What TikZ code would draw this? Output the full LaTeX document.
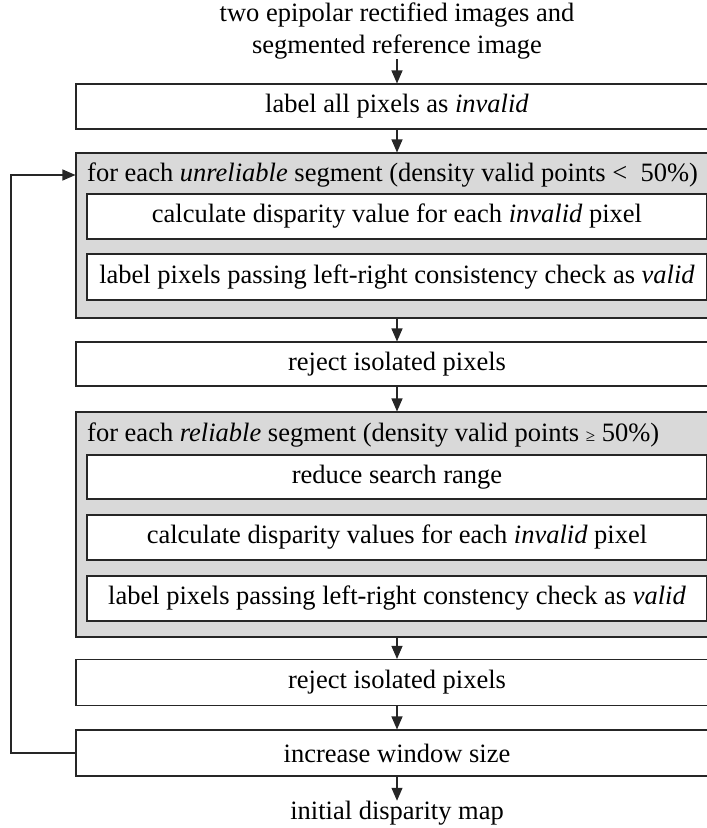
\documentclass[tikz,border=0pt]{standalone}
\usepackage{fontspec}
\setmainfont{Liberation Serif}
\usetikzlibrary{arrows.meta}
\begin{document}
\begin{tikzpicture}[x=1pt,y=-1pt,
  every node/.style={font=\fontsize{26.5}{32}\selectfont},
  flowbox/.style={draw=black!85, line width=1.1pt, fill=white, minimum width=642pt, minimum height=45pt, inner sep=0pt},
  innerbox/.style={draw=black!85, line width=1.1pt, fill=white, minimum width=620pt, minimum height=45pt, inner sep=0pt},
  loopbox/.style={draw=black!85, line width=1.1pt, fill=gray!30, minimum width=642pt, inner sep=0pt},
  looplabel/.style={anchor=west, inner sep=0pt},
  plaintext/.style={align=center, inner sep=0pt},
  arr/.style={line width=1.1pt, draw=black!85, -{Triangle[length=13pt,width=11pt]}}
]
\useasboundingbox (0,0) rectangle (707,828);
\clip (0,0) rectangle (707,828);

% input
\node[plaintext] (input) at (397,31) {two epipolar rectified images and\\segmented reference image};
\node[flowbox] (init) at (397,106.5) {label all pixels as \textit{invalid}};

% first loop over unreliable segments
\node[loopbox, minimum height=165pt] (loopA) at (397,235.5) {};
\node[looplabel] (loopAlabel) at (87,175) {for each \textit{unreliable} segment (density valid points <\ \ 50\%)};
\node[innerbox] (dispA) at (397,216.5) {calculate disparity value for each \textit{invalid} pixel};
\node[innerbox, minimum height=46pt] (lrcA) at (397,277) {label pixels passing left-right consistency check as \textit{valid}};

\node[flowbox, minimum height=44pt] (rejA) at (397,364) {reject isolated pixels};

% second loop over reliable segments
\node[loopbox, minimum height=225pt] (loopB) at (397,524.5) {};
\node[looplabel] (loopBlabel) at (87,435) {for each \textit{reliable} segment (density valid points {\fontsize{17}{20}\selectfont ≥} 50\%)};
\node[innerbox, minimum height=44pt] (range) at (397,477) {reduce search range};
\node[innerbox] (dispB) at (397,537.5) {calculate disparity values for each \textit{invalid} pixel};
\node[innerbox] (lrcB) at (397,598.5) {label pixels passing left-right constency check as \textit{valid}};

\node[flowbox, minimum height=46pt] (rejB) at (397,682.5) {reject isolated pixels};
\node[flowbox, minimum height=46pt] (grow) at (397,753) {increase window size};
\node[plaintext] (result) at (397,813) {initial disparity map};

% main flow
\draw[arr] (input.south) ++(0,-1) coordinate (inTop) (input) -- (init);
\draw[arr] (init) -- (loopA);
\draw[arr] (loopA) -- (rejA);
\draw[arr] (rejA) -- (loopB);
\draw[arr] (loopB) -- (rejB);
\draw[arr] (rejB) -- (grow);
\draw[arr] (grow) -- (result);

% feedback loop
\coordinate (backLow) at (11,753);
\coordinate (backHigh) at (11,175);
\draw[arr] (grow.west) -- (backLow) -- (backHigh) -- (loopA.west |- backHigh);
\end{tikzpicture}
\end{document}
